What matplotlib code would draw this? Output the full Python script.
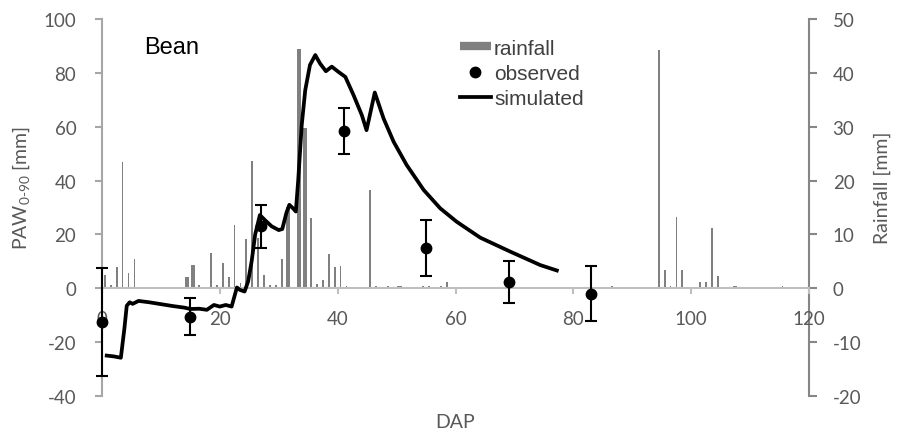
import matplotlib
matplotlib.use("Agg")
import matplotlib.pyplot as plt
from matplotlib.lines import Line2D

# Rainfall (right axis)
rain_day = [0.5, 1.5, 2.5, 3.5, 4.5, 5.5, 14.5, 15.5, 16.5,
            18.5, 19.5, 20.5, 21.5, 22.5, 23.5, 24.5, 25.5, 26.5, 27.5, 28.5, 29.5, 30.5, 31.5,
            33.5, 34.5, 35.5, 36.5, 37.5, 38.5, 39.5, 40.5, 41.5,
            45.5, 46.5, 48.5, 50.5, 54.5, 55.5, 57.5, 58.5, 86.5,
            94.5, 95.5, 96.5, 97.5, 98.5, 101.5, 102.5, 103.5, 104.5, 107.5, 115.5]
rain_mm = [2.5, 0.6, 3.9, 23.5, 2.8, 5.4, 2.0, 4.3, 0.6,
           6.5, 0.6, 4.6, 2.0, 11.7, 0.9, 9.2, 23.6, 9.4, 2.5, 0.6, 0.6, 5.4, 15.0,
           44.5, 29.7, 13.0, 0.7, 1.5, 6.3, 3.9, 4.1, 0.4,
           18.2, 0.4, 0.4, 0.4, 0.4, 0.4, 0.4, 1.2, 0.4,
           44.2, 3.4, 0.4, 13.2, 3.4, 1.1, 1.1, 11.1, 2.2, 0.4, 0.4]
wide_days = [14.5, 15.5, 31.5, 33.5, 34.5, 50.5, 107.5]

# Observed PAW with error bars
obs_day = [0, 15, 27, 41, 55, 69, 83]
obs_paw = [-12.5, -10.5, 23.0, 58.5, 15.0, 2.3, -2.0]
obs_err = [20.0, 7.0, 8.0, 8.5, 10.5, 7.7, 10.3]

# Simulated PAW
sim_day = [0.8, 2.0, 3.2, 3.8, 4.2, 4.7, 5.2, 6.2, 8, 10, 12, 14, 15, 16.5, 17.8,
           19.0, 20.0, 21.0, 22.0, 22.9, 23.4, 24.2, 24.8, 25.4, 26.0, 26.8, 27.8,
           28.8, 30.0, 30.6, 31.3, 31.8, 32.5, 32.9, 33.3, 33.9, 34.5, 35.3, 36.2,
           37.0, 38.0, 39.0, 40.1, 41.3, 42.7, 44.1, 44.9, 46.3, 47.8, 49.5, 51.7,
           54.6, 57.4, 60.2, 64.2, 69.3, 74.4, 77.2]
sim_paw = [-25.0, -25.3, -25.8, -15.0, -6.5, -5.2, -5.8, -4.7, -5.2, -5.9, -6.6, -7.2,
           -7.7, -7.6, -8.0, -6.2, -6.8, -6.2, -6.8, 0.3, -0.6, -1.2, 2.5, 10.0, 20.0,
           27.2, 25.0, 23.0, 21.6, 22.0, 28.0, 31.0, 29.5, 28.5, 40.0, 60.6, 73.6, 82.9,
           86.6, 83.5, 80.6, 82.3, 80.4, 78.5, 71.7, 64.3, 58.7, 72.7, 63.0, 54.4, 45.8,
           36.5, 29.7, 24.7, 18.8, 13.6, 8.6, 6.6]

plt.rcParams["axes.unicode_minus"] = False
plt.rcParams["mathtext.fontset"] = "custom"
plt.rcParams["mathtext.rm"] = "Lato"
tick_font = "Lato"
txt_gray = "#595959"

fig = plt.figure(figsize=(9.01, 4.35), dpi=100)
ax = fig.add_axes([0.1132, 0.0874, 0.7847, 0.8667])
ax2 = ax.twinx()
ax.set_zorder(ax2.get_zorder() + 1)
ax.patch.set_visible(False)

# bars
widths = [0.7 if d in wide_days else 0.3 for d in rain_day]
ax2.bar(rain_day, rain_mm, width=widths, color="#808080", linewidth=0)
ax2.set_ylim(-20, 50)
ax2.set_yticks(range(-20, 51, 10))

# simulated + observed
ax.plot(sim_day, sim_paw, color="black", lw=2.7, solid_joinstyle="round", zorder=3)
eb = ax.errorbar(obs_day, obs_paw, yerr=obs_err, fmt="none", ecolor="black",
                 elinewidth=1.5, capsize=4.5, capthick=1.5, zorder=3)
for art in eb.lines[1] + eb.lines[2]:
    art.set_clip_on(False)
ax.plot(obs_day, obs_paw, "o", color="black", ms=7.5, clip_on=False, zorder=4)

ax.set_xlim(0, 120)
ax.set_ylim(-40, 100)
ax.set_xticks(range(0, 121, 20))
ax.set_yticks(range(-40, 101, 20))

# spines
ax.spines["top"].set_visible(False)
ax.spines["right"].set_visible(False)
ax.spines["bottom"].set_position(("data", 0))
ax.spines["bottom"].set_color("#BFBFBF")
ax.spines["bottom"].set_linewidth(1.5)
ax.spines["left"].set_color("#A6A6A6")
ax.spines["left"].set_linewidth(1.5)
for s in ["top", "left", "bottom"]:
    ax2.spines[s].set_visible(False)
ax2.spines["right"].set_color("#868686")
ax2.spines["right"].set_linewidth(1.5)

ax.tick_params(axis="x", direction="out", length=4, width=1.5, color="#BFBFBF",
               labelsize=13.5, labelcolor=txt_gray, pad=12)
ax.tick_params(axis="y", direction="out", length=5, width=1.5, color="#A6A6A6",
               labelsize=13.5, labelcolor=txt_gray, pad=13.5)
ax2.tick_params(axis="y", direction="out", length=6, width=1.5, color="#868686",
                labelsize=13.5, labelcolor=txt_gray, pad=11)
for lab in ax.get_xticklabels() + ax.get_yticklabels() + ax2.get_yticklabels():
    lab.set_fontfamily(tick_font)
for lab in ax2.get_yticklabels():
    lab.set_horizontalalignment("left")

ax.set_xlabel("DAP", fontsize=14, color=txt_gray, fontfamily=tick_font)
ax.xaxis.set_label_coords(0.499, -0.045)
ax.set_ylabel(r"PAW$_{\mathregular{0\text{-}90}}$ [mm]", fontsize=14,
              color=txt_gray, fontfamily=tick_font)
ax.yaxis.set_label_coords(-0.099, 0.554)
ax2.set_ylabel("Rainfall [mm]", fontsize=14, color=txt_gray, fontfamily=tick_font)
ax2.yaxis.set_label_coords(1.092, 0.554)

ax.text(0.06, 0.955, "Bean", transform=ax.transAxes, fontsize=17,
        fontfamily="Liberation Sans", color="black", va="top")

handles = [Line2D([], [], color="#808080", lw=6, solid_capstyle="butt"),
           Line2D([], [], color="black", marker="o", ls="none", ms=7.5),
           Line2D([], [], color="black", lw=2.7)]
leg = ax.legend(handles, ["rainfall", "observed", "simulated"], loc="upper left",
                bbox_to_anchor=(0.506, 0.948), frameon=False, borderpad=0,
                borderaxespad=0, handlelength=1.5, handletextpad=0.15,
                labelspacing=0.3, numpoints=1,
                prop={"family": "Liberation Sans", "size": 15})
for t in leg.get_texts():
    t.set_color("#404040")

fig.savefig("out.png", dpi=100)
